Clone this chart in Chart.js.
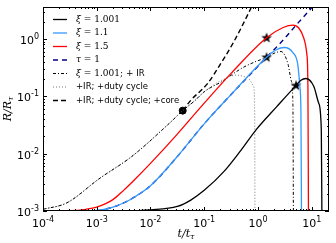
<!DOCTYPE html>
<html>
<head>
<meta charset="utf-8">
<script src="https://cdn.jsdelivr.net/npm/chart.js@4/dist/chart.umd.min.js"></script>
<style>
  html, body { margin: 0; padding: 0; background: #fff; }
  canvas { display: block; }
</style>
</head>
<body>
<canvas id="myChart" width="336" height="243"></canvas>
<script>
// axis ticks (label = "10" + exponent)
const xMajor = [1e-4, 1e-3, 1e-2, 1e-1, 1, 10];
const xTickExp = ['-4', '-3', '-2', '-1', '0', '1'];
const yMajor = [1e-3, 1e-2, 1e-1, 1];
const yTickExp = ['-3', '-2', '-1', '0'];

// xi = 1.001
const tXi1001 = [1e-4, 3.16e-3, 0.01, 0.0316, 0.0562, 0.1, 0.234, 0.457, 0.93, 2.24, 5.13, 6.31, 7.76, 10.96, 13.5, 15.1, 15.5];
const rXi1001 = [1e-3, 1.01e-3, 1.05e-3, 1.2e-3, 1.55e-3, 2.29e-3, 4.9e-3, 0.0107, 0.0263, 0.066, 0.155, 0.19, 0.204, 0.148, 0.0759, 0.0263, 7.9e-4];

// xi = 1.1
const tXi11 = [1e-4, 6.3e-4, 1e-3, 2.0e-3, 3.16e-3, 5.0e-3, 0.01, 0.0316, 0.1, 0.316, 1.45, 2.19, 3.09, 4.47, 5.5, 6.03, 6.31, 6.46];
const rXi11 = [1e-3, 1.01e-3, 1.02e-3, 1.17e-3, 1.38e-3, 1.74e-3, 2.75e-3, 8.9e-3, 0.0331, 0.107, 0.479, 0.646, 0.708, 0.575, 0.363, 0.148, 0.0513, 7.9e-4];

// xi = 1.5
const tXi15 = [1e-4, 3.16e-4, 6.3e-4, 1e-3, 2.0e-3, 3.16e-3, 5.0e-3, 0.01, 0.0316, 0.1, 0.316, 1.45, 2.95, 4.47, 5.75, 7.08, 8.13, 8.51, 8.71];
const rXi15 = [1e-3, 1.01e-3, 1.07e-3, 1.17e-3, 1.58e-3, 2.29e-3, 3.47e-3, 6.76e-3, 0.0219, 0.0759, 0.251, 1.05, 1.58, 1.74, 1.55, 1.05, 0.537, 0.148, 7.9e-4];

// tau = 1
const tTau = [1e-4, 6.3e-4, 1e-3, 2.0e-3, 3.16e-3, 5.0e-3, 0.01, 0.0316, 0.1, 0.316, 1.45, 2.95, 5.13, 8.91, 12.6];
const rTau = [1e-3, 1.01e-3, 1.02e-3, 1.17e-3, 1.38e-3, 1.74e-3, 2.75e-3, 8.9e-3, 0.0331, 0.107, 0.479, 0.955, 1.74, 3.09, 4.57];

// xi = 1.001; + IR
const tIR = [1e-4, 2.75e-4, 1.1e-3, 4.47e-3, 0.0214, 0.0398, 0.066, 0.1, 0.234, 0.355, 0.55, 0.83, 1.45, 2.0, 2.69, 3.63, 4.17, 4.47, 4.57];
const rIR = [1.07e-3, 1.38e-3, 3.63e-3, 8.9e-3, 0.0324, 0.0562, 0.083, 0.12, 0.19, 0.251, 0.324, 0.389, 0.479, 0.562, 0.603, 0.363, 0.186, 0.0759, 7.9e-4];

// +IR; +duty cycle
const tDuty = [1e-4, 2.75e-4, 1.1e-3, 4.47e-3, 0.0214, 0.0398, 0.066, 0.115, 0.234, 0.398, 0.63, 0.83, 0.87, 0.88];
const rDuty = [1.07e-3, 1.38e-3, 3.63e-3, 8.9e-3, 0.0324, 0.0562, 0.083, 0.132, 0.2, 0.234, 0.214, 0.148, 0.0513, 7.9e-4];

// +IR; +duty cycle; +core
const tCore = [0.0398, 0.0562, 0.115, 0.2, 0.355, 0.676, 0.89];
const rCore = [0.0562, 0.085, 0.166, 0.363, 0.891, 2.88, 5.0];

// markers
const tStars = [1.45, 1.45, 5.13];
const rStars = [1.05, 0.479, 0.155];
const tDot = [0.0398];
const rDot = [0.0562];

const pts = (ts, rs) => ts.map((t, i) => ({x: t, y: rs[i]}));

// filled five point star for the markers
const starImg = document.createElement('canvas');
starImg.width = 12; starImg.height = 12;
(function () {
  const c = starImg.getContext('2d');
  c.fillStyle = '#000';
  c.beginPath();
  for (let k = 0; k < 10; k++) {
    const r = k % 2 ? 2.3 : 5.6;
    const a = -Math.PI / 2 + k * Math.PI / 5;
    c.lineTo(6 + r * Math.cos(a), 6.3 + r * Math.sin(a));
  }
  c.closePath();
  c.fill();
})();

const lineDs = (label, data, color, width, dash) => ({
  label: label, data: data, borderColor: color, borderWidth: width, borderDash: dash,
  pointRadius: 0, fill: false, cubicInterpolationMode: 'monotone'
});

const datasets = [
  lineDs('xi1001', pts(tXi1001, rXi1001), '#000000', 1.3, []),
  lineDs('xi11', pts(tXi11, rXi11), '#3399ff', 1.3, []),
  lineDs('xi15', pts(tXi15, rXi15), '#ff0000', 1.3, []),
  lineDs('tau', pts(tTau, rTau), '#00008b', 1.4, [5, 4]),
  lineDs('ir', pts(tIR, rIR), '#000000', 1.0, [3, 2, 1, 2]),
  lineDs('duty', pts(tDuty, rDuty), '#777777', 1.0, [1, 2]),
  lineDs('core', pts(tCore, rCore), '#000000', 1.4, [5, 3]),
  {label: 'stars', data: pts(tStars, rStars), showLine: false, pointStyle: starImg, pointRadius: 6},
  {label: 'dot', data: pts(tDot, rDot), showLine: false, pointStyle: 'circle', pointRadius: 3.5,
   pointBackgroundColor: '#000', pointBorderColor: '#000'}
];

const legendItems = [
  {ds: 0, parts: [['ξ', 'italic 9px "DejaVu Serif"'], [' = 1.001', '9px "DejaVu Serif"']]},
  {ds: 1, parts: [['ξ', 'italic 9px "DejaVu Serif"'], [' = 1.1', '9px "DejaVu Serif"']]},
  {ds: 2, parts: [['ξ', 'italic 9px "DejaVu Serif"'], [' = 1.5', '9px "DejaVu Serif"']]},
  {ds: 3, parts: [['τ', 'italic 9px "DejaVu Serif"'], [' = 1', '9px "DejaVu Serif"']]},
  {ds: 4, parts: [['ξ', 'italic 9px "DejaVu Serif"'], [' = 1.001; + ', '9px "DejaVu Serif"'], ['IR', '8.5px "DejaVu Sans"']]},
  {ds: 5, parts: [['+IR; +duty cycle', '8.5px "DejaVu Sans"']]},
  {ds: 6, parts: [['+IR; +duty cycle; +core', '8.5px "DejaVu Sans"']]}
];

// "10" with a raised exponent
function powLabel(ctx, exp, x, y, align) {
  ctx.font = '11px "DejaVu Sans"';
  const wb = ctx.measureText('10').width;
  ctx.font = '8px "DejaVu Sans"';
  const we = ctx.measureText(exp).width;
  let x0 = align === 'center' ? x - (wb + we) / 2 : x - wb - we;
  ctx.textAlign = 'left';
  ctx.textBaseline = 'alphabetic';
  ctx.font = '11px "DejaVu Sans"';
  ctx.fillText('10', x0, y);
  ctx.font = '8px "DejaVu Sans"';
  ctx.fillText(exp, x0 + wb, y - 5);
}

const framePlugin = {
  id: 'frame',
  afterDatasetsDraw(chart) {
    const {ctx, chartArea: a, scales} = chart;
    ctx.save();
    // frame
    ctx.strokeStyle = '#000';
    ctx.lineWidth = 1;
    ctx.strokeRect(a.left + 0.5, a.top + 0.5, a.right - a.left - 1, a.bottom - a.top - 1);
    // inward ticks, all four sides
    const tick = (scale, horiz, majors) => {
      const vals = [];
      majors.forEach(m => {
        vals.push([m, 4]);
        for (let k = 2; k < 10; k++) vals.push([m * k, 2]);
      });
      vals.push([majors[0] / 10 * 9, 2]);
      vals.forEach(([v, len]) => {
        if (v < scale.min || v > scale.max) return;
        const p = Math.round(scale.getPixelForValue(v)) + 0.5;
        ctx.beginPath();
        if (horiz) {
          ctx.moveTo(p, a.bottom); ctx.lineTo(p, a.bottom - len);
          ctx.moveTo(p, a.top); ctx.lineTo(p, a.top + len);
        } else {
          ctx.moveTo(a.left, p); ctx.lineTo(a.left + len, p);
          ctx.moveTo(a.right, p); ctx.lineTo(a.right - len, p);
        }
        ctx.stroke();
      });
    };
    tick(scales.x, true, xMajor);
    tick(scales.y, false, yMajor);

    // tick labels
    ctx.fillStyle = '#000';
    xMajor.forEach((v, i) => powLabel(ctx, xTickExp[i], scales.x.getPixelForValue(v), a.bottom + 16, 'center'));
    yMajor.forEach((v, i) => powLabel(ctx, yTickExp[i], a.left - 4, scales.y.getPixelForValue(v) + 5, 'right'));

    // legend in the upper left
    legendItems.forEach((it, i) => {
      const ds = chart.data.datasets[it.ds];
      const y = a.top + 12.5 + i * 13.5;
      ctx.strokeStyle = ds.borderColor;
      ctx.lineWidth = ds.borderWidth;
      ctx.setLineDash(ds.borderDash);
      ctx.beginPath();
      ctx.moveTo(a.left + 10, y); ctx.lineTo(a.left + 24, y);
      ctx.stroke();
      ctx.setLineDash([]);
      let x = a.left + 33;
      ctx.fillStyle = '#000';
      ctx.textBaseline = 'middle';
      ctx.textAlign = 'left';
      it.parts.forEach(([txt, font]) => {
        ctx.font = font;
        ctx.fillText(txt, x, y);
        x += ctx.measureText(txt).width;
      });
    });

    // axis titles
    const label = (main, sub) => {
      ctx.font = 'italic 11px "DejaVu Serif"';
      const w1 = ctx.measureText(main).width;
      ctx.font = 'italic 8px "DejaVu Serif"';
      const w2 = ctx.measureText(sub).width;
      return [w1, w2];
    };
    ctx.textBaseline = 'alphabetic';
    ctx.textAlign = 'left';
    let [w1, w2] = label('t/t', 'τ');
    let x0 = (a.left + a.right) / 2 - (w1 + w2) / 2;
    ctx.font = 'italic 11px "DejaVu Serif"';
    ctx.fillText('t/t', x0, 237);
    ctx.font = 'italic 8px "DejaVu Serif"';
    ctx.fillText('τ', x0 + w1, 239);

    [w1, w2] = label('R/R', 'τ');
    ctx.translate(11, (a.top + a.bottom) / 2 + (w1 + w2) / 2);
    ctx.rotate(-Math.PI / 2);
    ctx.font = 'italic 11px "DejaVu Serif"';
    ctx.fillText('R/R', 0, 0);
    ctx.font = 'italic 8px "DejaVu Serif"';
    ctx.fillText('τ', w1, 2);
    ctx.restore();
  }
};

const ctx = document.getElementById('myChart').getContext('2d');
const myChart = new Chart(ctx, {
  type: 'line',
  data: {datasets: datasets},
  options: {
    responsive: false,
    animation: false,
    devicePixelRatio: 1,
    layout: {padding: {top: 1, right: 2, left: 0, bottom: 0}},
    plugins: {legend: {display: false}, tooltip: {enabled: false}},
    scales: {
      x: {
        type: 'logarithmic', min: 1e-4, max: 21,
        grid: {display: false, drawTicks: false}, border: {display: false},
        ticks: {display: false},
        afterBuildTicks: s => { s.ticks = xMajor.map(v => ({value: v})); },
        afterFit: s => { s.height = 32; }
      },
      y: {
        type: 'logarithmic', min: 1e-3, max: 3.6,
        grid: {display: false, drawTicks: false}, border: {display: false},
        ticks: {display: false},
        afterBuildTicks: s => { s.ticks = yMajor.map(v => ({value: v})); },
        afterFit: s => { s.width = 43; }
      }
    }
  },
  plugins: [framePlugin]
});
</script>
</body>
</html>
